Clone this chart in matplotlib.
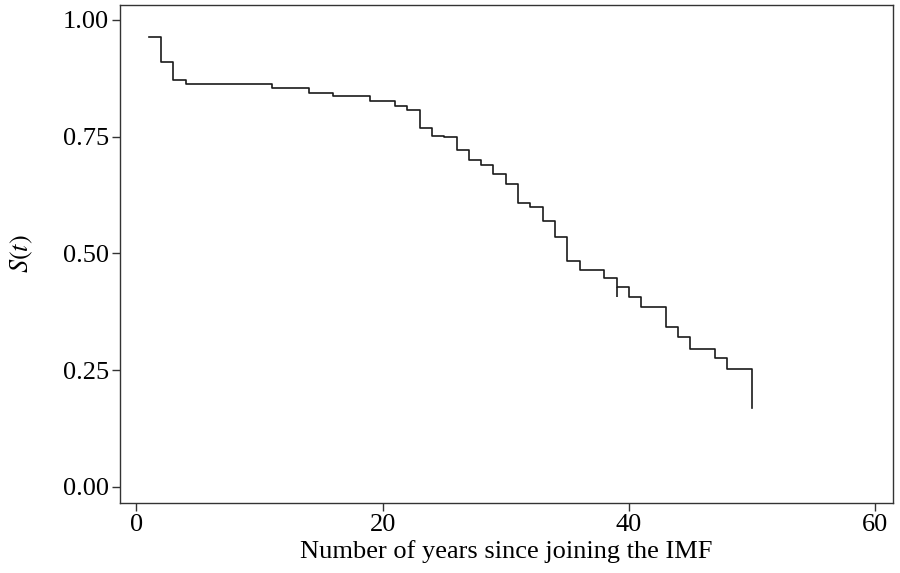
import matplotlib
matplotlib.use("Agg")
import matplotlib.pyplot as plt

# Kaplan-Meier style survival estimates
times = [1, 2, 3, 4, 11, 14, 16, 19, 21, 22, 23, 24, 25, 26, 27, 28, 29, 30,
         31, 32, 33, 34, 35, 36, 38, 39, 40, 41, 43, 44, 45, 47, 48, 50]
surv = [0.963, 0.909, 0.8715, 0.8636, 0.855, 0.843, 0.837, 0.8266, 0.8165,
        0.807, 0.7687, 0.751, 0.7488, 0.7216, 0.700, 0.6895, 0.670, 0.649,
        0.6075, 0.599, 0.570, 0.536, 0.483, 0.4654, 0.447, 0.428, 0.406,
        0.386, 0.343, 0.3205, 0.296, 0.276, 0.2527, 0.1685]
# small vertical mark below the curve
mark_t = [39]
mark_top = [0.428]
mark_bottom = [0.4075]

xticks = [0, 20, 40, 60]
yticks = [0.00, 0.25, 0.50, 0.75, 1.00]
ytick_labels = ["0.00", "0.25", "0.50", "0.75", "1.00"]

plt.rcParams["font.family"] = ["Liberation Serif", "DejaVu Serif"]
plt.rcParams["mathtext.fontset"] = "stix"

fig = plt.figure(figsize=(9, 5.73), dpi=100)
ax = fig.add_axes([0.1333, 0.1227, 0.9922 - 0.1333, 0.9913 - 0.1227])

ax.plot(times, surv, drawstyle="steps-post", color="#1a1a1a", lw=1.2)
ax.vlines(mark_t, mark_bottom, mark_top, color="#1a1a1a", lw=1.2)

ax.set_xlim(-1.34, 61.45)
ax.set_ylim(-0.034, 1.032)
ax.set_xticks(xticks)
ax.set_xticklabels([str(v) for v in xticks])
ax.set_yticks(yticks)
ax.set_yticklabels(ytick_labels)

for s in ax.spines.values():
    s.set_color("#333333")
    s.set_linewidth(1.0)
ax.tick_params(axis="both", direction="out", length=6, width=1.0,
               color="#333333", labelsize=19, pad=2)

ax.set_xlabel("Number of years since joining the IMF", fontsize=19, labelpad=3)
ax.set_ylabel(r"$S(t)$", fontsize=19, labelpad=20)

fig.savefig("out.png", dpi=100, facecolor="white")
